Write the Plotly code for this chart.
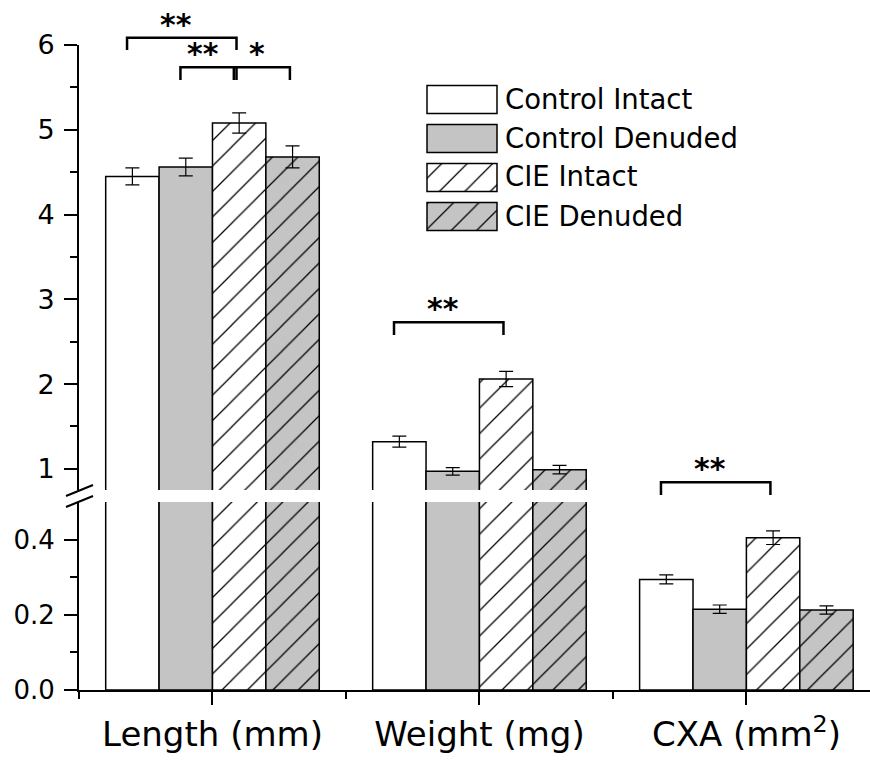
import plotly.graph_objects as go

# ---------------- data ----------------
categories = ["Length (mm)", "Weight (mg)", "CXA (mm<sup>2</sup>)"]
groups = ["Control Intact", "Control Denuded", "CIE Intact", "CIE Denuded"]
control_intact = [4.45, 1.32, 0.294]
control_denuded = [4.56, 0.97, 0.215]
cie_intact = [5.08, 2.06, 0.405]
cie_denuded = [4.68, 0.99, 0.213]
err_control_intact = [0.10, 0.065, 0.012]
err_control_denuded = [0.105, 0.045, 0.011]
err_cie_intact = [0.12, 0.09, 0.018]
err_cie_denuded = [0.13, 0.05, 0.011]
upper_ticks = [1, 2, 3, 4, 5, 6]
lower_ticks = [0.0, 0.2, 0.4]
lower_ticktext = ["0.0", "0.2", "0.4"]
# significance brackets: (category index, group i, group j, label, level)
brackets = [
    (0, 0, 2, "**", 0),
    (0, 1, 2, "**", 1),
    (0, 2, 3, "*", 1),
    (1, 0, 2, "**", 2),
    (2, 0, 2, "**", 3),
]

values = [control_intact, control_denuded, cie_intact, cie_denuded]
errors = [err_control_intact, err_control_denuded, err_cie_intact, err_cie_denuded]

# ---------------- styles ----------------
FONT = "DejaVu Sans, Liberation Sans, Arial, sans-serif"
GRAY = "#c4c4c4"
HATCH = dict(shape="/", fgcolor="black", fgopacity=1, size=18, solidity=0.07, fillmode="overlay")
styles = [
    dict(color="white", pattern=None),
    dict(color=GRAY, pattern=None),
    dict(color="white", pattern=HATCH),
    dict(color=GRAY, pattern=HATCH),
]

W, H = 870, 762
ML, MR, MT, MB = 79, 0, 45, 72
PH = H - MT - MB


def py2paper(py):
    return (H - MB - py) / PH


def px2paper(px):
    return (px - ML) / (W - ML - MR)


lower_dom = [0, py2paper(502)]
upper_dom = [py2paper(490), 1]

xs = list(range(len(categories)))
fig = go.Figure()
for k, g in enumerate(groups):
    st = styles[k]
    marker = dict(color=st["color"], line=dict(color="black", width=1.5))
    if st["pattern"]:
        marker["pattern"] = st["pattern"]
    for xa, ya in (("x", "y"), ("x2", "y2")):
        fig.add_trace(go.Bar(
            x=xs, y=values[k], name=g, marker=marker,
            error_y=dict(type="data", array=errors[k], color="black", thickness=1.2, width=7),
            xaxis=xa, yaxis=ya, showlegend=False, offsetgroup=str(k),
        ))

# legend built from bars on a small dedicated axis
for k, g in enumerate(groups):
    st = styles[k]
    marker = dict(color=st["color"], line=dict(color="black", width=1.5))
    if st["pattern"]:
        marker["pattern"] = st["pattern"]
    fig.add_trace(go.Bar(
        x=[1], y=[k], orientation="h", width=0.72, marker=marker,
        xaxis="x3", yaxis="y3", showlegend=False, hoverinfo="skip",
    ))
    fig.add_annotation(
        x=px2paper(503), y=py2paper(98.5 + 39 * k), xref="paper", yref="paper",
        text=g, showarrow=False, xanchor="left", yanchor="middle",
        font=dict(family=FONT, size=27.5, color="black"),
    )

fig.update_layout(
    width=W, height=H,
    margin=dict(l=ML, r=MR, t=MT, b=MB),
    paper_bgcolor="white", plot_bgcolor="white",
    barmode="group", bargap=0.2, bargroupgap=0,
    font=dict(family=FONT, color="black"),
    xaxis=dict(
        domain=[0, 1], anchor="y", range=[-0.5, 2.463],
        tickmode="array", tickvals=xs, ticktext=categories,
        ticks="outside", ticklen=13, tickwidth=2, tickcolor="black",
        showline=True, linewidth=2, linecolor="black",
        showgrid=False, zeroline=False,
        tickfont=dict(family=FONT, size=34, color="black"),
        minor=dict(tickmode="array", tickvals=[-0.5, 0.5, 1.5, 2.5], ticks="outside",
                   ticklen=7, tickwidth=2, tickcolor="black", showgrid=False),
    ),
    xaxis2=dict(domain=[0, 1], anchor="y2", matches="x", visible=False),
    yaxis=dict(
        domain=lower_dom, anchor="x", range=[0, 0.5],
        tickmode="array", tickvals=lower_ticks, ticktext=lower_ticktext,
        ticks="outside", ticklen=13, tickwidth=2, tickcolor="black",
        showline=True, linewidth=2, linecolor="black",
        showgrid=False, zeroline=False, ticklabelstandoff=4,
        tickfont=dict(family=FONT, size=26, color="black"),
        minor=dict(tickmode="array", tickvals=[0.1, 0.3], ticks="outside",
                   ticklen=7, tickwidth=2, tickcolor="black", showgrid=False),
    ),
    yaxis2=dict(
        domain=upper_dom, anchor="x2", range=[0.75, 6],
        tickmode="array", tickvals=upper_ticks,
        ticks="outside", ticklen=13, tickwidth=2, tickcolor="black",
        showline=True, linewidth=2, linecolor="black",
        showgrid=False, zeroline=False, ticklabelstandoff=4,
        tickfont=dict(family=FONT, size=27, color="black"),
        minor=dict(tickmode="array", tickvals=[1.5, 2.5, 3.5, 4.5, 5.5], ticks="outside",
                   ticklen=7, tickwidth=2, tickcolor="black", showgrid=False),
    ),
    xaxis3=dict(domain=[px2paper(423.5), px2paper(500.5)], anchor="y3",
                range=[-0.05, 1.05], visible=False, fixedrange=True),
    yaxis3=dict(domain=[py2paper(80 + 39 * 4), py2paper(80)], anchor="x3",
                range=[3.5, -0.5], visible=False, fixedrange=True),
)

# axis break marks
for y0, y1 in ((496, 485), (507, 496)):
    fig.add_shape(type="line", xref="paper", yref="paper",
                  x0=px2paper(66), x1=px2paper(93), y0=py2paper(y0), y1=py2paper(y1),
                  line=dict(color="black", width=2))

# significance brackets
offsets = [-0.3, -0.1, 0.1, 0.3]
level_px = [(37.7, 50), (67.3, 80), (322.3, 335), (482.3, 495)]
for c, i, j, lab, lev in brackets:
    xa = c + offsets[i] - 0.02
    xb = c + offsets[j] - 0.01
    top, leg = level_px[lev]
    fig.add_shape(type="path", xref="x", yref="paper",
                  path=f"M {xa},{py2paper(leg)} L {xa},{py2paper(top)} L {xb},{py2paper(top)} L {xb},{py2paper(leg)}",
                  line=dict(color="black", width=2.5))
    fig.add_annotation(x=(xa + xb) / 2 - 0.02, y=py2paper(top), xref="x", yref="paper",
                       text=f"<b>{lab}</b>", showarrow=False, xanchor="center", yanchor="bottom",
                       yshift=-6, font=dict(family=FONT, size=30, color="black"))

fig.write_html("out.html")
